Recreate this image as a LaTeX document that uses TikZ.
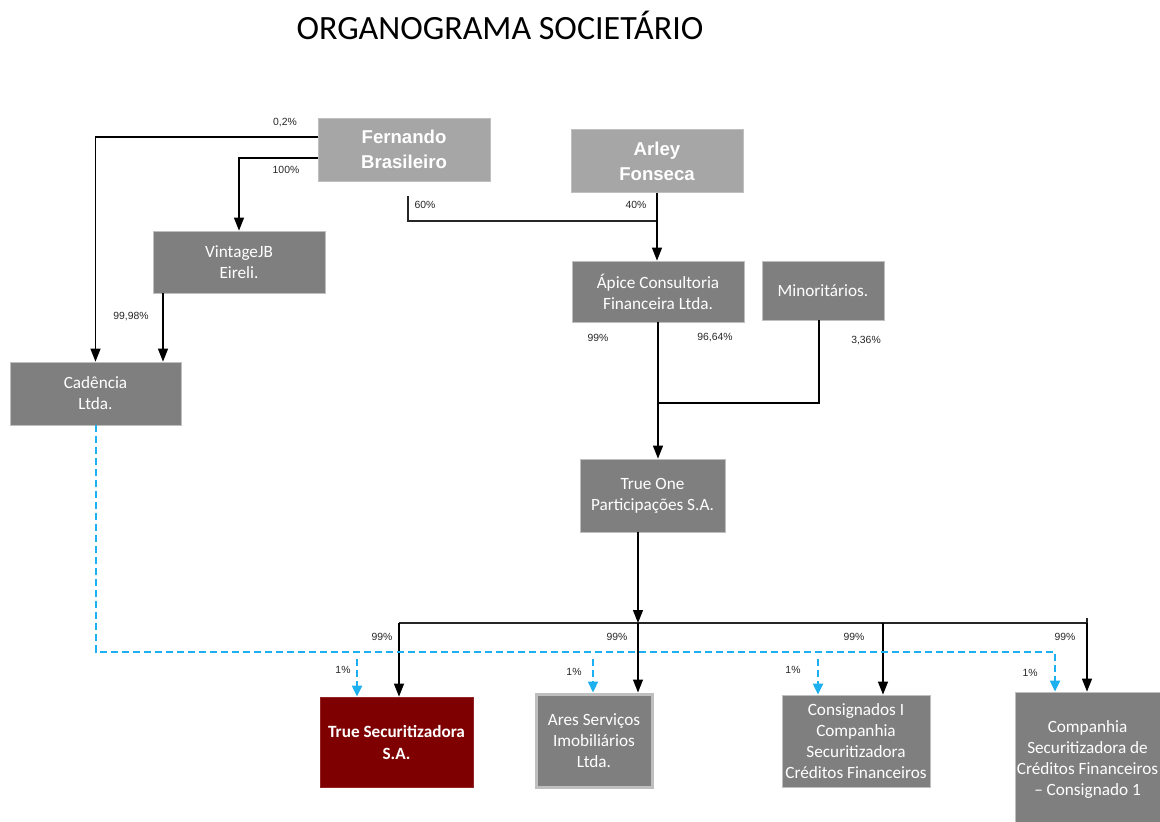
\documentclass[tikz,border=0pt]{standalone}
\usepackage{fontspec}
\setmainfont{Carlito}
\newfontfamily\arialfont{Liberation Sans}
\usetikzlibrary{arrows.meta,positioning,calc}

\definecolor{boxlight}{HTML}{A6A6A6}
\definecolor{boxdark}{HTML}{7F7F7F}
\definecolor{edgelight}{HTML}{BFBFBF}
\definecolor{truered}{HTML}{7F0000}
\definecolor{linkblue}{HTML}{1DB0F0}

\tikzset{
    ownerbox/.style={fill=boxlight, draw=edgelight, text=white, align=center,
        font=\arialfont\bfseries\fontsize{9.3}{12.5}\selectfont,
        minimum width=86pt, minimum height=31.5pt, inner sep=0pt},
    firmbox/.style={fill=boxdark, draw=edgelight, text=white, align=center,
        font=\fontsize{8.6}{10.5}\selectfont, inner sep=0pt},
    pct/.style={font=\arialfont\fontsize{5.2}{6}\selectfont, text=black!85, inner sep=0pt},
    link/.style={draw=black, line width=0.65pt, -{Triangle[width=5pt,length=6.5pt]}},
    plain/.style={draw=black!85, line width=0.6pt},
    dashlink/.style={draw=linkblue, line width=1pt, dash pattern=on 3.5pt off 2pt},
    dasharrow/.style={dashlink, -{Triangle[width=5pt,length=5.5pt,sep=0pt]}}
}

\begin{document}
\begin{tikzpicture}[x=0.5pt, y=-0.5pt]
    \useasboundingbox (0,0) rectangle (1160,821);
    \node[font=\fontsize{17}{20}\selectfont] (title) at (500,25) {ORGANOGRAMA SOCIETÁRIO};

    % Owners
    \node[ownerbox] (fer) at (404,149.5) {Fernando\\Brasileiro};
    \node[ownerbox] (arl) at (657,161) {Arley\\Fonseca};

    % Holdings
    \node[firmbox, minimum width=86pt, minimum height=31pt] (vin) at (239,262) {VintageJB\\Eireli.};
    \node[firmbox, minimum width=85.5pt, minimum height=31.5pt] (cad) at (95.5,393.5) {Cadência\\Ltda.};
    \node[firmbox, minimum width=86pt, minimum height=30.5pt] (api) at (658,291.5) {Ápice Consultoria\\Financeira Ltda.};
    \node[firmbox, minimum width=61pt, minimum height=29.5pt] (min) at (823,290.5) {Minoritários.};
    \node[firmbox, minimum width=72.5pt, minimum height=36.5pt] (one) at (652.5,495.5) {True One\\Participações S.A.};

    % Subsidiaries
    \node[firmbox, fill=truered, draw=truered!85!white, font=\bfseries\fontsize{8.6}{11}\selectfont,
        minimum width=76.5pt, minimum height=45pt] (tsec) at (396.5,742) {True Securitizadora\\S.A.};
    \node[firmbox, line width=1.5pt, minimum width=58pt, minimum height=46.5pt] (ares) at (594,740.5) {Ares Serviços\\Imobiliários\\Ltda.};
    \node[firmbox, minimum width=74pt, minimum height=46pt] (cons) at (856,741) {Consignados I\\Companhia\\Securitizadora\\Créditos Financeiros};
    \node[firmbox, minimum width=72.5pt, minimum height=67pt] (comp) at (1087.5,759) {Companhia\\Securitizadora de\\Créditos Financeiros\\– Consignado 1};

    % Junctions
    \coordinate (f60) at (408,196);
    \coordinate (j60) at (657,221);
    \coordinate (jmin) at (658,403);
    \coordinate (bus) at (638,623);
    \coordinate (busL) at (399,623);
    \coordinate (busR) at (1087,623);
    \coordinate (blue) at (1055,652);

    % Fernando and Arley
    \draw[link] ([yshift=6.25pt]fer.west) -| (cad.north);
    \draw[link] ([yshift=-4.25pt]fer.west) -| (vin.north);
    \draw[link] ([xshift=-38pt]vin.south) -- ([xshift=-38pt]vin.south |- cad.north);
    \draw[plain] (f60) |- (j60);
    \draw[link] (arl.south -| j60) -- (api.north -| j60);
    \draw[link] (api.south) -- (api.south |- one.north);
    \draw[line width=1pt] ([xshift=-2pt]min.south) |- (jmin);

    % True One
    \draw[link] (one.south -| bus) -- (bus);
    \draw[plain] (busL) -- (busR) -- ++(0,-5);
    \foreach \n/\x in {tsec/399, ares/638, cons/883, comp/1087}
        \draw[link] (\x,623) -- (\x,623 |- \n.north);

    % Cadencia
    \draw[dasharrow] (cad.south) |- (blue) -- (blue |- comp.north);
    \foreach \n/\x in {tsec/357, ares/593, cons/818}
        \draw[dasharrow] (\x,659) -- (\x,659 |- \n.north);

    % Percentages
    \foreach \x/\y/\t [count=\i] in {
        285/123/{0,2\%}, 286/170/100\%, 131/317/{99,98\%}, 425/205/60\%,
        636/205/40\%, 598/338/99\%, 715/338/{96,64\%}, 866/341/{3,36\%},
        382/637/99\%, 617/637/99\%, 854/637/99\%, 1065/637/99\%,
        343/670/1\%, 574/672/1\%, 793/670/1\%, 1030/673/1\%}
        \node[pct] (p\i) at (\x,\y) {\t};
\end{tikzpicture}
\end{document}
